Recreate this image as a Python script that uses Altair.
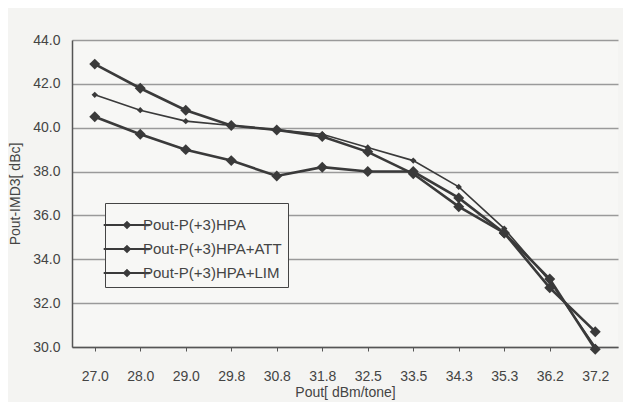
import altair as alt
import pandas as pd

cats = ["27.0", "28.0", "29.0", "29.8", "30.8", "31.8", "32.5", "33.5", "34.3", "35.3", "36.2", "37.2"]
series_names = ["Pout-P(+3)HPA", "Pout-P(+3)HPA+ATT", "Pout-P(+3)HPA+LIM"]
hpa = [40.5, 39.7, 39.0, 38.5, 37.8, 38.2, 38.0, 38.0, 36.8, 35.2, 33.1, 29.9]
att = [41.5, 40.8, 40.3, 40.1, 39.9, 39.7, 39.1, 38.5, 37.3, 35.4, 33.0, 30.0]
lim = [42.9, 41.8, 40.8, 40.1, 39.9, 39.6, 38.9, 37.9, 36.4, 35.2, 32.7, 30.7]

rows = []
for name, vals in zip(series_names, [hpa, att, lim]):
    for c, v in zip(cats, vals):
        rows.append({"x": c, "y": v, "s": name})
df = pd.DataFrame(rows)

FONT = "Liberation Sans"
LINE = "#3a3a3a"
is_att = alt.datum.s == "Pout-P(+3)HPA+ATT"

xenc = alt.X("x:N", sort=cats, title="Pout[ dBm/tone]",
             scale=alt.Scale(paddingInner=0, paddingOuter=0),
             axis=alt.Axis(labelAngle=0, bandPosition=0, grid=False,
                           domainColor="#555", domainWidth=1.5, tickColor="#555", tickSize=4,
                           labelPadding=18, titlePadding=2))
yenc = alt.Y("y:Q", title="Pout-IMD3[ dBc]",
             scale=alt.Scale(domain=[30, 44], nice=False, zero=False),
             axis=alt.Axis(values=[30, 32, 34, 36, 38, 40, 42, 44], format=".1f",
                           gridColor="#9a9a9a", gridWidth=1.5, domainColor="#555", domainWidth=1.5,
                           ticks=False, labelPadding=12, titlePadding=10))

color = alt.Color("s:N", sort=series_names,
                  scale=alt.Scale(domain=series_names, range=[LINE, LINE, LINE]),
                  legend=alt.Legend(title=None, orient="none", legendX=33, legendY=163,
                                    symbolType="M-1.6,0H1.6M0,-0.2L0.2,0L0,0.2L-0.2,0Z",
                                    symbolSize=850, symbolStrokeWidth=2,
                                    symbolFillColor=LINE,
                                    labelFontSize=15, labelColor="#444", labelFont=FONT,
                                    labelOffset=0,
                                    rowPadding=0, padding=6,
                                    strokeColor="#444", fillColor="#f7f7f5"))

lines = alt.Chart(df).mark_line().encode(
    x=xenc, y=yenc, color=color,
    strokeWidth=alt.condition(is_att, alt.value(1.6), alt.value(2.6)),
)
points = alt.Chart(df).mark_point(shape="diamond", filled=True, opacity=1).encode(
    x=xenc, y=yenc,
    color=alt.Color("s:N", scale=alt.Scale(domain=series_names, range=[LINE, LINE, LINE]), legend=None),
    size=alt.condition(is_att, alt.value(40), alt.value(120)),
)

chart = alt.layer(lines, points).properties(
    width=546, height=307,
    autosize=alt.AutoSizeParams(type="none"),
    padding={"left": 64, "top": 32, "right": 5, "bottom": 55},
    background="#f4f4f2",
).configure_view(stroke=None, fill="#f7f7f5").configure_axis(
    labelFont=FONT, titleFont=FONT, labelFontSize=14, titleFontSize=14,
    labelColor="#444", titleColor="#444", titleFontWeight="normal",
)

chart.save("out.html", embed_options={"renderer": "svg", "actions": False})
